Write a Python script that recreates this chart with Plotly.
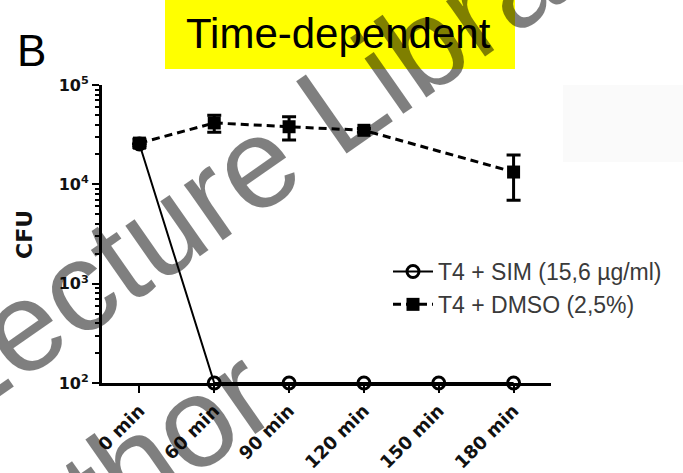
import plotly.graph_objects as go

categories = ["0 min", "60 min", "90 min", "120 min", "150 min", "180 min"]
sim_values = [25500, 100, 100, 100, 100, 100]
dmso_cats = ["0 min", "60 min", "90 min", "120 min", "180 min"]
dmso_values = [26000, 41500, 38000, 35000, 13300]
dmso_err = [2500, 8000, 10000, 1500, 6400]
ytick_vals = [100, 1000, 10000, 100000]
ytick_text = ["10<sup>2</sup>", "10<sup>3</sup>", "10<sup>4</sup>", "10<sup>5</sup>"]
minor_vals = [m * 10 ** e for e in (2, 3, 4) for m in range(2, 10)]

W, H = 683, 473
L, R, T, B = 102, 132, 85, 90
pw, ph = W - L - R, H - T - B

def px(x):
    return (x - L) / pw

def py(y):
    return (H - B - y) / ph

fig = go.Figure()
fig.add_trace(go.Scatter(
    x=categories, y=sim_values, name="T4 + SIM (15,6 µg/ml)",
    mode="lines+markers",
    line=dict(color="black", width=2),
    marker=dict(symbol="circle-open", size=12, color="black", line=dict(width=3, color="black")),
    cliponaxis=False,
))
fig.add_trace(go.Scatter(
    x=dmso_cats, y=dmso_values, name="T4 + DMSO (2,5%)",
    mode="lines+markers",
    line=dict(color="black", width=3, dash="8px,5px"),
    marker=dict(symbol="square", size=13, color="black"),
    error_y=dict(type="data", array=dmso_err, color="black", thickness=3, width=7),
    cliponaxis=False,
))

fig.update_xaxes(
    type="category", categoryorder="array", categoryarray=categories,
    range=[-0.5, 5.5], showline=True, linecolor="black", linewidth=3,
    ticks="outside", ticklen=7, tickwidth=2, tickcolor="black",
    tickangle=-45, tickfont=dict(family="DejaVu Sans", size=18, color="#111", weight="bold"),
    showgrid=False, zeroline=False, automargin=False,
)
fig.update_yaxes(
    type="log", range=[2, 5], showline=True, linecolor="black", linewidth=3,
    tickmode="array", tickvals=ytick_vals, ticktext=ytick_text,
    ticks="outside", ticklen=7, tickwidth=2, tickcolor="black",
    minor=dict(ticks="outside", ticklen=4, tickwidth=1.5, tickcolor="black",
               tickmode="array", tickvals=minor_vals, showgrid=False),
    tickfont=dict(family="DejaVu Sans", size=16, color="#111", weight="bold"),
    showgrid=False, zeroline=False, automargin=False,
)

fig.add_shape(type="rect", xref="paper", yref="paper",
              x0=px(165), x1=px(515), y0=py(69), y1=py(-2),
              fillcolor="#ffff00", line=dict(width=0), layer="below")
fig.add_shape(type="rect", xref="paper", yref="paper",
              x0=px(563), x1=px(690), y0=py(162), y1=py(85),
              fillcolor="#fafafa", line=dict(width=0), layer="below")

wm_font = dict(family="Liberation Sans", size=128, color="rgba(0,0,0,0.5)")
annotations = [
    dict(text="Time-dependent", x=px(338), y=py(33),
         font=dict(family="Liberation Sans", size=42, color="black")),
    dict(text="B", x=px(31), y=py(50),
         font=dict(family="Liberation Sans", size=44, color="black")),
    dict(text="CFU", x=px(24), y=py(235), textangle=-90,
         font=dict(family="DejaVu Sans", size=22, color="#111", weight="bold")),
    dict(text="Lecture Library", x=px(283), y=py(143), textangle=-35, font=wm_font),
    dict(text="author", x=px(108), y=py(482), textangle=-35, font=wm_font),
]
for a in annotations:
    a.update(xref="paper", yref="paper", xanchor="center", yanchor="middle", showarrow=False)

fig.update_layout(
    width=W, height=H, margin=dict(l=L, r=R, t=T, b=B, autoexpand=False),
    paper_bgcolor="white", plot_bgcolor="white",
    showlegend=True,
    legend=dict(x=px(388), y=py(288), xanchor="left", yanchor="middle",
                font=dict(family="Liberation Sans", size=23, color="#3a3a3a"),
                itemwidth=40, bgcolor="rgba(0,0,0,0)", tracegroupgap=0),
    annotations=annotations,
)
fig.write_html("out.html", config={"displayModeBar": False},
               post_script="document.body.style.margin='0';")
